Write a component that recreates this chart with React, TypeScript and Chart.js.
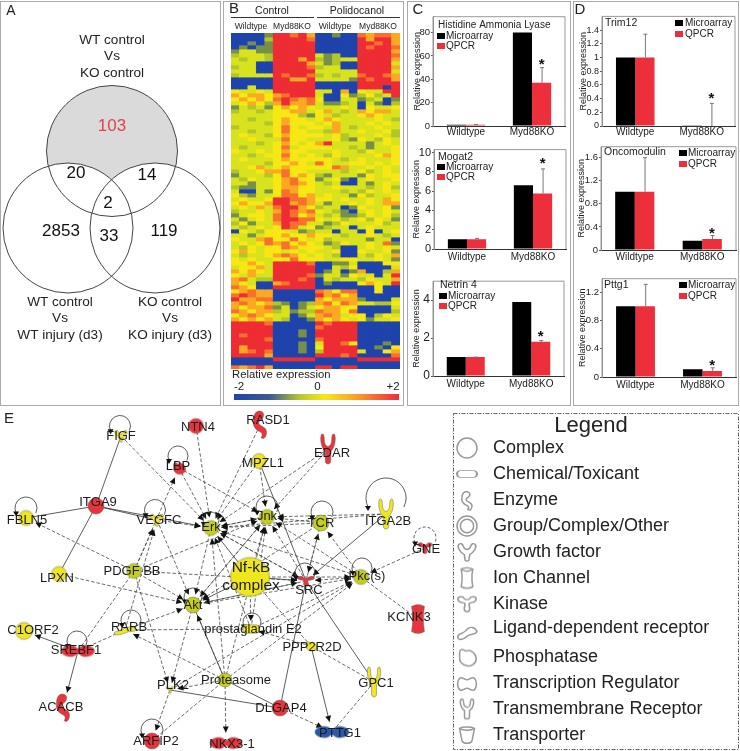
import { useEffect, useRef } from "react";
import { Chart, registerables } from "chart.js";
Chart.register(...registerables);

const FONT = '"Liberation Sans", Arial, sans-serif';

/* ---------- Venn ---------- */
const vennX = [112, 68, 155];
const vennY = [151, 228, 228];
const vennR = [65.5, 65, 65];
const vennCounts = ["103", "20", "14", "2", "2853", "33", "119"];
const vennCountX = [112, 76, 147, 108, 61, 109, 164];
const vennCountY = [126, 173, 175, 203, 231, 236, 231];
const vennTitles = [
  ["WT control", "Vs", "KO control"],
  ["WT control", "Vs", "WT injury (d3)"],
  ["KO control", "Vs", "KO injury (d3)"],
];

/* ---------- Heatmap ---------- */
const heatRows = [
  "BBBBN RRDRO BBNBB DODDO", "BBBBG RRRRD BBBBB RORRO", "BBNBN RRRRR BBBBB RRDRO", "BNBNN RRRRR BBBBB RDRRD",
  "NLLNN RRRRR BBBBB RRRRO", "GLLLG RRRRR LNGBB RRRRD", "LGLLG RRROR GNGLL RRRRO", "LLLBB RRRRO LNGBB RRRRL",
  "GLLBB RRRRD GLLBB RRRRO", "LLLBB RRRRR LLLLL RRRRL", "GLLLL RDRRD GLGLL DRRDO", "BBBBB RROOR LLLLN RDRRO",
  "BBBBB RRRRR BBBBB RRRRR", "BBLBB RRRRR BBBBB RRRBR", "YLLYL RRRRR LLBOB YLLRR", "OYOOY ODRRR LBBYN GYGLR",
  "YOYOY DRDOD YBBLL NGLBN", "LYOYG OROOD LNNGL BLNBG", "NLGLN YOYOY LLLYL BYLLY", "GLLGL YYOOL YOLGL OYOOL",
  "LLLLL YYYGN YLGLL YOYLL", "LLGLL YOYYL YOYLL LLYLG", "LLLLG YOYYY LYOLL LYLYL", "GLLLL YDYLY YLOLG LLYLL",
  "LLGLL YDYYL LGOLL YLLYG", "LYLLG YOYYY YLYGL LLYLG", "LLYLL LDYYL LLYGN YLGYL", "LLLGL YOYLY ORLLL LNLYL",
  "LGLLL YDLYY YYLLG LNLLY", "YLLYL YOYYL LLYLL GYLLY", "LLGLY YDYLY LGYLL LLYOY", "LYLLL YOYYY YYLGL YLLLY",
  "LLLLG YYOYL DYLLY YLYLY", "LLYOL YOYYY YYDOL LYLYL", "GLLYO ODYYL LLLGL YGLYL", "NLLLG YDYOY GNLLL NYLYY",
  "LGYLL YODYY NLYNB LYLLY", "LLNLL YODOY LGLBB LNLYL", "GNNLL YOOYY LLYLL LGLYG", "LBBLN YDOYY LLLGL GYLYL",
  "YGNLL YDDYO LYLLN YGLLY", "LYLLY RRDDO YYLYL LYLOY", "YOYYO RRODO LNLLY LYLOO", "LYLOL DRROY GLLBN YLLYN",
  "GLLYL ORDOD YLGNB LYLYL", "NLYYL DRDYO LGLNN GYLYG", "LNLYL DRRDD YLYGL YGYLN", "GYNLL ORDDL LNGYL LLYGL",
  "LGLYL YRDLY NGLLB LYLLL", "BYLGY YYLNG LLBLL BYBLY", "LLNLY YOYYO YYLGL LYLGL", "YLLOD YYDYL YGLLL LNLLB",
  "LYLYD ODYOY LNGYL LYLDN", "LGYLY YDOYY YLGBB LYLYL", "YOYLY YLYLY LLYBB YLLYN", "LGLLY ODOYL YLGBB LGYLO",
  "YLYLL YYDYY YLLYY LLYLN", "YYOYL RRRRD BBNNL BBBYY", "LYYOL RRRRR BBLGY BBBBL", "OYOYL RRRRR BNLBN OBBGO",
  "YLOLL RRRRD NLLNY LLBLR", "ODLGG RRRDR BLGLL GYLLO", "OYLBB ODRRR BNBBB YOYLR", "DOYBB RRRRR BBBBB BBYBB",
  "YODOO BBBBB DOYDD BBYBB", "DRDOO BBBBB RODYO BBBBB", "ROODD BBBBB OYOOO NBBBL", "ODOYO GNBNG ODYDO LLGGY",
  "OYOOD NLBNL YOOYY BBBBL", "DOYOO GLNGG DOOYD BBBBG", "YODOY LLBNL ODOLY YBGYL", "OYOYO LGBBN OYOYL YNLLY",
  "RRRRD BBBBB RDRRR BBBBB", "RRRRR BBBBB DRRRR BBBBB", "RRRRR BBBNB RRRRR BBBBB", "RDRRR BBBNB RRRRR BBBBB",
  "RRRRD BBBBB DRRRR BBBBB", "RRRRR BBBNB LRRDY BBBNB", "RORRR BBBNB YRRRR BBNBY", "RODRD BBBNB GRRRR LBBYO",
  "RRRRO BBBBB RRRDR BBBBD", "BBBBB RRRRR BBBBB RRRRR", "BBBBB BBBBB BBBBB BBBBB", "DODRO BBBBB RRBRR BBBBB",
];
const heatPalette: Record<string, string> = {
  B: "#1f43ad", N: "#76904a", G: "#b2c62a", L: "#d8e31e", Y: "#f7e815", O: "#fba922", D: "#f8702c", R: "#ee2c33",
};
const heatGroups = ["Control", "Polidocanol"];
const heatSubGroups = ["Wildtype", "Myd88KO", "Wildtype", "Myd88KO"];
const colorbarValues = [-2, 0, 2];
const colorbarTicks = ["-2", "0", "+2"];

/* ---------- Bars ---------- */
const barCategories = ["Wildtype", "Myd88KO"];
const seriesNames = ["Microarray", "QPCR"];
const hisMicro = [1, 80];
const hisQpcr = [1, 37];
const hisErr = [1.3, 50];
const mogMicro = [1, 6.6];
const mogQpcr = [1, 5.75];
const mogErr = [1.1, 8.3];
const netMicro = [1, 3.9];
const netQpcr = [1, 1.8];
const netErr = [1, 1.87];
const triMicro = [1, 0.005];
const triQpcr = [1, 0];
const triErr = [1.34, 0.33];
const oncMicro = [1.01, 0.16];
const oncQpcr = [1.01, 0.19];
const oncErr = [1.6, 0.25];
const pttMicro = [1, 0.11];
const pttQpcr = [1, 0.085];
const pttErr = [1.31, 0.13];

/* ---------- Network ---------- */
const nodeIds = ["FIGF","NTN4","LBP","RASD1","MPZL1","EDAR","ITGA9","FBLN5","VEGFC","Erk","Jnk","TCR","ITGA2B","GNE","LPXN","PDGF","Akt","NFKB","SRC","Pkc","KCNK3","C1ORF2","RARB","SREBF1","PGE2","PPP2R2D","GPC1","Prot","PLK2","DLGAP4","ACACB","ARFIP2","NKX","PTTG1"];
const nodeNames = ["FIGF","NTN4","LBP","RASD1","MPZL1","EDAR","ITGA9","FBLN5","VEGFC","Erk","Jnk","TCR","ITGA2B","GNE","LPXN","PDGF BB","Akt","Nf-kB|complex","SRC","Pkc(s)","KCNK3","C1ORF2","RARB","SREBF1","prostaglandin E2","PPP2R2D","GPC1","Proteasome","PLK2","DLGAP4","ACACB","ARFIP2","NKX3-1","PTTG1"];
const nodeX = [121,196,179,260,259,328,96,26,157,211,267,321,386,425,59,134,193,250,306,361,418,24,125,78,251,311,374,225,170,280,63,152,226,332];
const nodeY = [436,426,468,425,461,449,506,518,520,528,517,523,514,548,574,571,605,577,581,577,619,631,630,651,629,646,682,680,690,708,708,741,743,732];
const nodeShape = ["growth","circle","phosph","enzyme","circle","tm","circle","circle","growth","circle","circle","circle","tm","kinase","circle","circle","circle","circle","kinase","circle","channel","circle","ligand","duo","pill","phosph","tm","circle","kinase","circle","enzyme","circle","duo","duo"];
const nodeW = [15,15,16,26,14,22,16,15,16,15,15,16,22,17,15,15,16,39,20,15,22,17,26,33,16,14,20,14,9,16,26,16,32,34];
const nodeH = [14,15,15,30,15,32,16,15,14,15,15,16,32,14,15,15,16,39,12,15,30,17,12,15,10,12,32,14,9,16,30,16,15,15];
const nodeColor = ["Y","R","R","R","Y","R","R","Y","Y","H","H","H","Y","R","Y","H","H","Y","R","H","R","Y","Y","R","Y","Y","Y","H","Y","R","R","R","R","U"];
const labelX = [121,198,178,268,263,332,98,27,159,211,267,321,388,426,57,132,193,251,309,367,409,33,129,76,253,312,376,236,173,281,61,156,232,340];
const labelY = [436,427,466,420,463,453,502,520,520,527,516,523,521,549,578,571,605,568,590,576,617,630,627,650,629,647,683,680,685,708,707,741,744,733];
const solidEdges = ["FIGF~ITGA9","ITGA9~FBLN5","ITGA9~LPXN","ITGA9~VEGFC","ITGA9>Erk","MPZL1~SRC","DLGAP4~SRC","SRC~GPC1","ITGA2B>SRC","SREBF1>ACACB","SREBF1>C1ORF2","PLK2~DLGAP4","PPP2R2D>PTTG1","NFKB>Akt","NFKB>Erk","NFKB>SRC","Prot~DLGAP4","Prot~Akt"];
const dashedEdges = ["NTN4>Erk","LBP>Erk","LBP>Jnk","FIGF>Erk","RASD1>Erk","MPZL1>Erk","MPZL1>Jnk","EDAR>Jnk","EDAR>Erk","VEGFC>Erk","VEGFC>Akt","PDGF>VEGFC","PDGF>LBP","PDGF>Jnk","PDGF>Akt","PDGF>PLK2","PDGF~SREBF1","PDGF>SRC","PDGF>FBLN5","RARB>VEGFC","RARB>Akt","RARB~PGE2","LPXN>Akt","Erk>Akt","Erk>SRC","Erk>Jnk","Jnk>Erk","TCR>Erk","TCR>Jnk","TCR>Akt","ITGA2B>Jnk","ITGA2B>Erk","Pkc>Erk","Pkc>Jnk","Pkc>TCR","Pkc>SRC","SRC>TCR","SRC>Jnk","SRC>Erk","SRC>Akt","GNE>Pkc","KCNK3~Pkc","GPC1~PPP2R2D","PPP2R2D>PGE2","PPP2R2D~NFKB","PGE2>Erk","PGE2>Jnk","PGE2>Pkc","Prot>Erk","Prot>Akt","Prot>Jnk","Prot>RARB","Prot>NKX","Prot>PLK2","Prot>Pkc","NFKB>Jnk","NFKB>Pkc","NFKB>PGE2","Akt>PLK2","Akt>Jnk","Akt>Pkc","Akt>SRC","PLK2>ARFIP2","ARFIP2~Prot","DLGAP4>PTTG1","GPC1~PTTG1","PLK2>Pkc","SREBF1~RARB","Jnk>Akt","TCR>SRC"];
const loopIds = ["FIGF","LBP","FBLN5","VEGFC","Erk","Jnk","TCR","ITGA2B","GNE","SRC","Pkc","Akt","RARB","SREBF1","PGE2","ARFIP2"];
const loopX = [120,178,26,155,211,267,322,386,425,305,362,193,131,77,252,152];
const loopY = [426,456,508,510,520,507,512,498,538,573,568,597,620,641,622,730];
const loopR = [10.5,10,11,10.5,8,11,11,20,11,10,10,9,10,10,9,11];

/* ---------- Legend ---------- */
const legendLabels = ["Complex","Chemical/Toxicant","Enzyme","Group/Complex/Other","Growth factor","Ion Channel","Kinase","Ligand-dependent receptor","Phosphatase","Transcription Regulator","Transmembrane Receptor","Transporter"];
const legendShapes = ["circle","pill","enzyme","ring","growth","channel","kinase","ligand","phosph","tf","tm","transporter"];
const legendY = [448,474,500,526,552,578,604,628,657,683,709,735];
const legendIconY = [448,474,501,526,552,578,604,632,657,684,709,735];
const legendIconW = [20,20,20,20,22,20,22,22,22,22,20,20];
const legendIconH = [20,8,20,20,20,21,19,18,21,20,21,20];

const shapePaths: Record<string, string> = {
  circle: "M12 0A12 12 0 1 1 12 24A12 12 0 1 1 12 0Z",
  pill: "M4 2H20A4 10 0 0 1 20 22H4A4 10 0 0 1 4 2Z",
  ring: "M12 0A12 12 0 1 1 12 24A12 12 0 1 1 12 0ZM12 4A8 8 0 1 0 12 20A8 8 0 1 0 12 4Z",
  growth: "M3 3C5 1 7 2 8 5C9 8 11 9 12 9C13 9 15 8 16 5C17 2 19 1 21 3C23 6 20 12 15 15L14 22C13 23 11 23 10 22L9 15C4 12 1 6 3 3Z",
  tm: "M5 1C7 0 8 2 8 5C8 8 10 10 12 10C14 10 16 8 16 5C16 2 17 0 19 1C21 3 20 11 15 14L15 21C15 24 9 24 9 21L9 14C4 11 3 3 5 1Z",
  enzyme: "M10 1C15 0 17 4 14 7C11 9 10 10 12 12C15 14 18 14 18 18C18 22 15 24 13 22C15 20 14 18 11 17C7 15 5 12 6 8C6 5 7 2 10 1Z",
  channel: "M5 2C9 0 15 0 19 2L18 8L18 16L19 22C15 24 9 24 5 22L6 16L6 8Z",
  kinase: "M2 6C2 2 8 2 9 5C10 7 14 7 15 5C16 2 22 2 22 6C22 10 17 10 15 11C13 12 15 15 15 18C15 23 9 23 9 18C9 15 11 12 9 11C7 10 2 10 2 6Z",
  ligand: "M2 18C2 14 8 14 10 11C12 8 15 5 18 6C21 7 24 11 22 13C19 16 16 14 13 17C10 20 7 22 4 22C3 22 2 20 2 18Z",
  phosph: "M5 4C8 2 9 6 12 5C16 3 22 8 22 14C22 20 16 23 12 22C7 21 3 17 4 12C4 9 3 6 5 4Z",
  tf: "M4 5C7 3 9 7 12 7C15 7 17 3 20 5C23 8 23 16 20 19C17 21 15 17 12 17C9 17 7 21 4 19C1 16 1 8 4 5Z",
  duo: "M7 3C10 3 11 8 12 8C13 8 14 3 17 3C21 3 24 7 24 12C24 17 21 21 17 21C14 21 13 16 12 16C11 16 10 21 7 21C3 21 0 17 0 12C0 7 3 3 7 3Z",
  transporter: "M3 4C7 2 17 2 21 4L18 19C16 23 8 23 6 19Z",
};
const nodeFill: Record<string, string> = { Y: "#efe71d", H: "#c4cf1a", R: "#e8343c", U: "#2a58ad" };

function makeIcon(shape: string, w: number, h: number, fill: string, stroke: string, lw: number) {
  const c = document.createElement("canvas");
  c.width = Math.ceil(w) + 4;
  c.height = Math.ceil(h) + 4;
  const x = c.getContext("2d")!;
  x.translate(2, 2);
  x.scale(w / 24, h / 24);
  const p = new Path2D(shapePaths[shape]);
  x.lineWidth = (lw * 48) / (w + h);
  x.strokeStyle = stroke;
  x.fillStyle = fill;
  x.fill(p, "evenodd");
  x.stroke(p);
  if (shape === "transporter") x.stroke(new Path2D("M3 4C7 7 17 7 21 4"));
  if (shape === "channel") x.stroke(new Path2D("M5 2C9 5 15 5 19 2"));
  return c;
}

type PenOpts = { align?: CanvasTextAlign; color?: string; weight?: string };
function pen(ctx: CanvasRenderingContext2D, ox: number, oy: number) {
  return (s: string, x: number, y: number, size: number, o: PenOpts = {}) => {
    ctx.save();
    ctx.font = `${o.weight || ""} ${size}px ${FONT}`;
    ctx.fillStyle = o.color || "#222";
    ctx.textAlign = o.align || "center";
    ctx.textBaseline = "middle";
    ctx.fillText(s, x - ox, y - oy);
    ctx.restore();
  };
}

type Box = { x: number; y: number; w: number; h: number };
type BarSpec = {
  box: Box; title: string; titleX: number; titleY: number;
  micro: number[]; qpcr: number[]; err: number[]; max: number; ticks: number[]; star: number;
  swatchX: number; textX: number; legY: number[]; tickFont: number; catPad: number; titleOff: number;
};
const barSpecs: BarSpec[] = [
  { box: { x: 433, y: 16, w: 132, h: 110 }, title: "Histidine Ammonia Lyase", titleX: 438, titleY: 25, micro: hisMicro, qpcr: hisQpcr, err: hisErr, max: 93.6, ticks: [0, 20, 40, 60, 80], star: 55, swatchX: 437, textX: 446, legY: [36, 46], tickFont: 9.5, catPad: 0, titleOff: 16 },
  { box: { x: 434, y: 148, w: 132, h: 101 }, title: "Mogat2", titleX: 438, titleY: 157, micro: mogMicro, qpcr: mogQpcr, err: mogErr, max: 10.3, ticks: [0, 2, 4, 6, 8, 10], star: 9.1, swatchX: 437, textX: 446, legY: [167, 177], tickFont: 11, catPad: 2, titleOff: 18 },
  { box: { x: 433, y: 279, w: 131, h: 97 }, title: "Netrin 4", titleX: 440, titleY: 285, micro: netMicro, qpcr: netQpcr, err: netErr, max: 5, ticks: [0, 2, 4], star: 2.2, swatchX: 439, textX: 448, legY: [296, 306], tickFont: 12, catPad: 2, titleOff: 17 },
  { box: { x: 602, y: 16, w: 133, h: 110 }, title: "Trim12", titleX: 605, titleY: 23, micro: triMicro, qpcr: triQpcr, err: triErr, max: 1.6, ticks: [0, 0.2, 0.4, 0.6, 0.8, 1, 1.2, 1.4], star: 0.44, swatchX: 675, textX: 685, legY: [23, 34], tickFont: 9, catPad: 0, titleOff: 19 },
  { box: { x: 601, y: 146, w: 135, h: 104 }, title: "Oncomodulin", titleX: 604, titleY: 152, micro: oncMicro, qpcr: oncQpcr, err: oncErr, max: 1.79, ticks: [0, 0.4, 0.8, 1.2, 1.6], star: 0.34, swatchX: 679, textX: 688, legY: [153, 164], tickFont: 9.5, catPad: 1, titleOff: 20 },
  { box: { x: 602, y: 278, w: 134, h: 99 }, title: "Pttg1", titleX: 604, titleY: 285, micro: pttMicro, qpcr: pttQpcr, err: pttErr, max: 1.39, ticks: [0, 0.4, 0.8, 1.2], star: 0.2, swatchX: 679, textX: 688, legY: [285, 296], tickFont: 9.5, catPad: 2, titleOff: 20 },
];
const BAR_RED = "#ec2f3b";

function buildBar(cv: HTMLCanvasElement, s: BarSpec) {
  const left = s.box.x - 24, top = s.box.y - 6;
  return new Chart(cv, {
    type: "bar",
    data: {
      labels: barCategories,
      datasets: [
        { label: seriesNames[0], data: s.micro, backgroundColor: "#000" },
        { label: seriesNames[1], data: s.qpcr, backgroundColor: BAR_RED },
      ],
    },
    options: {
      responsive: false, animation: false, events: [],
      layout: { padding: { top: 6, right: 3, left: 0, bottom: 0 } },
      datasets: { bar: { categoryPercentage: 0.58, barPercentage: 1 } },
      plugins: { legend: { display: false }, tooltip: { enabled: false } },
      scales: {
        x: {
          afterFit: (a: any) => { a.height = 17; },
          grid: { drawOnChartArea: false, drawTicks: false },
          border: { color: "#333" },
          ticks: { color: "#222", font: { size: 10, family: FONT }, padding: s.catPad, maxRotation: 0 },
        },
        y: {
          min: 0, max: s.max,
          afterFit: (a: any) => { a.width = 24; },
          afterBuildTicks: (a: any) => { a.ticks = s.ticks.map((value) => ({ value })); },
          grid: { drawOnChartArea: false, tickLength: 2, color: "#555" },
          border: { color: "#888" },
          title: { display: true, text: "Relative expression", color: "#222", font: { size: 9, family: FONT }, padding: { top: 24 - s.titleOff - 5, bottom: 0 } },
          ticks: { color: "#222", font: { size: s.tickFont, family: FONT }, padding: 1, autoSkip: false, callback: (v: any) => String(Number(Number(v).toFixed(1))) },
        },
      },
    } as any,
    plugins: [{
      id: "barDecor",
      afterDatasetsDraw(c: any) {
        const ctx = c.ctx, a = c.chartArea, yS = c.scales.y, t = pen(ctx, left, top);
        ctx.save();
        ctx.strokeStyle = "#999"; ctx.lineWidth = 1;
        ctx.beginPath(); ctx.moveTo(a.left, a.bottom); ctx.lineTo(a.left, a.top); ctx.lineTo(a.right, a.top); ctx.lineTo(a.right, a.bottom); ctx.stroke();
        ctx.strokeStyle = "#777";
        const bars = c.getDatasetMeta(1).data;
        s.err.forEach((e, i) => {
          const x = bars[i].x, y0 = yS.getPixelForValue(s.qpcr[i]), y1 = yS.getPixelForValue(e);
          ctx.beginPath(); ctx.moveTo(x + 0.5, y0); ctx.lineTo(x + 0.5, y1); ctx.moveTo(x - 1.5, y1); ctx.lineTo(x + 2.5, y1); ctx.stroke();
        });
        ctx.fillStyle = "#000"; ctx.fillRect(s.swatchX - left, s.legY[0] - 3 - top, 8, 6);
        ctx.fillStyle = BAR_RED; ctx.fillRect(s.swatchX - left, s.legY[1] - 3 - top, 8, 6);
        ctx.restore();
        t(s.title, s.titleX, s.titleY, s.title.length > 12 ? 10 : 10.5, { align: "left" });
        t(seriesNames[0], s.textX, s.legY[0], 10, { align: "left" });
        t(seriesNames[1], s.textX, s.legY[1], 10, { align: "left" });
        t("*", bars[1].x + left, yS.getPixelForValue(s.star) + top + 3, 15, { weight: "bold", color: "#111" });
      },
    }],
  });
}

function buildVenn(cv: HTMLCanvasElement) {
  const pts = vennX.map((x, i) => ({ x, y: vennY[i], r: vennR[i] }));
  return new Chart(cv, {
    type: "bubble",
    data: {
      datasets: [
        { data: pts, backgroundColor: "rgba(0,0,0,0)", borderColor: "#444", borderWidth: 1, clip: false },
        { data: pts.slice(1), backgroundColor: "#fff", borderWidth: 0, clip: false },
        { data: pts.slice(0, 1), backgroundColor: "#dadada", borderWidth: 0, clip: false },
      ],
    },
    options: {
      responsive: false, animation: false, events: [],
      layout: { autoPadding: false },
      plugins: { legend: { display: false }, tooltip: { enabled: false } },
      scales: { x: { display: false, min: 1, max: 221 }, y: { display: false, min: 2, max: 405, reverse: true } },
    } as any,
    plugins: [{
      id: "vennText",
      afterDatasetsDraw(c: any) {
        const X = c.scales.x, Y = c.scales.y;
        const t = pen(c.ctx, 0, 0);
        const P = (s: string, x: number, y: number, z: number, o?: PenOpts) => t(s, X.getPixelForValue(x), Y.getPixelForValue(y), z, o);
        P("A", 11, 11, 14, {});
        vennCounts.forEach((s, i) => P(s, vennCountX[i], vennCountY[i], 17, { color: i === 0 ? "#e4404f" : "#111" }));
        const tx = [112, 60, 170], ty = [40, 302, 302];
        vennTitles.forEach((lines, k) => lines.forEach((l, j) => P(l, tx[k], ty[k] + j * 16.5, 13.6)));
      },
    }],
  });
}

function buildHeat(cv: HTMLCanvasElement) {
  const L = 226, Tp = 2;
  const rows = heatRows.map((r) => r.replace(/ /g, ""));
  const cols = rows[0].split("").map((_, i) => String(i));
  return new Chart(cv, {
    type: "bar",
    data: {
      labels: cols,
      datasets: rows.map((r) => ({
        data: cols.map(() => 1),
        backgroundColor: r.split("").map((k) => heatPalette[k]),
        borderWidth: 0, categoryPercentage: 1, barPercentage: 1, inflateAmount: 0.4,
      })),
    },
    options: {
      responsive: false, animation: false, events: [],
      layout: { padding: { left: 5, right: 4, top: 31, bottom: 36 } },
      plugins: { legend: { display: false }, tooltip: { enabled: false } },
      scales: {
        x: { display: false, stacked: true },
        y: { display: false, stacked: true, min: 0, max: rows.length, reverse: true },
      },
    } as any,
    plugins: [{
      id: "heatDecor",
      afterDatasetsDraw(c: any) {
        const ctx = c.ctx, t = pen(ctx, L, Tp);
        t("B", 234, 9, 15);
        const gx = [272, 357];
        heatGroups.forEach((g, i) => t(g, gx[i], 11, 10.5));
        ctx.save();
        ctx.strokeStyle = "#333"; ctx.lineWidth = 1.2;
        [[231, 314], [317, 400]].forEach(([a, b]) => {
          ctx.beginPath(); ctx.moveTo(a - L, 17.5 - Tp); ctx.lineTo(b - L, 17.5 - Tp); ctx.stroke();
        });
        const x0 = 234 - L, x1 = 399 - L;
        const g = ctx.createLinearGradient(x0, 0, x1, 0);
        g.addColorStop(0, "#1f43ad"); g.addColorStop(0.22, "#3f5a90"); g.addColorStop(0.4, "#b8c830");
        g.addColorStop(0.55, "#f7e815"); g.addColorStop(0.75, "#fb9a2a"); g.addColorStop(1, "#ee2c40");
        ctx.fillStyle = g; ctx.fillRect(x0, 394 - Tp, x1 - x0, 6);
        ctx.restore();
        const sx = [251, 292, 335, 378];
        heatSubGroups.forEach((g2, i) => t(g2, sx[i], 27, 8.5));
        t("Relative expression", 232, 375, 11.3, { align: "left" });
        colorbarValues.forEach((v, i) => {
          const px = 234 + ((v + 2) / 4) * 165;
          t(colorbarTicks[i], i === 0 ? px + 5 : i === 2 ? px - 6 : px + 1, 387, 11.5);
        });
      },
    }],
  });
}

function buildNetwork(cv: HTMLCanvasElement) {
  const icons = nodeShape.map((sh, i) => makeIcon(sh, nodeW[i], nodeH[i], nodeFill[nodeColor[i]], "#666", 0.5));
  const idx = (id: string) => nodeIds.indexOf(id);
  return new Chart(cv, {
    type: "scatter",
    data: { datasets: [{ data: nodeX.map((x, i) => ({ x, y: nodeY[i] })), pointStyle: icons as any, pointRadius: 5, clip: false } as any] },
    options: {
      responsive: false, animation: false, events: [],
      layout: { autoPadding: false },
      plugins: { legend: { display: false }, tooltip: { enabled: false } },
      scales: { x: { display: false, min: 0, max: 450 }, y: { display: false, min: 406, max: 751, reverse: true } },
    } as any,
    plugins: [{
      id: "netEdges",
      beforeDatasetsDraw(c: any) {
        const ctx: CanvasRenderingContext2D = c.ctx, X = c.scales.x, Y = c.scales.y;
        const drawEdge = (e: string, dashed: boolean) => {
          const arrow = e.includes(">");
          const [a, b] = e.split(arrow ? ">" : "~");
          const i = idx(a), j = idx(b);
          const x0 = X.getPixelForValue(nodeX[i]), y0 = Y.getPixelForValue(nodeY[i]);
          const x1 = X.getPixelForValue(nodeX[j]), y1 = Y.getPixelForValue(nodeY[j]);
          const d = Math.hypot(x1 - x0, y1 - y0), ux = (x1 - x0) / d, uy = (y1 - y0) / d;
          const gap = arrow ? Math.min(nodeW[j], nodeH[j]) / 2 + 3 : 0;
          const ex = x1 - ux * gap, ey = y1 - uy * gap;
          ctx.setLineDash(dashed ? [3.5, 2] : []);
          ctx.strokeStyle = dashed ? "#444" : "#333";
          ctx.lineWidth = 0.8;
          ctx.beginPath(); ctx.moveTo(x0, y0); ctx.lineTo(ex, ey); ctx.stroke();
          if (arrow) {
            ctx.setLineDash([]); ctx.fillStyle = "#111";
            ctx.beginPath(); ctx.moveTo(ex, ey);
            ctx.lineTo(ex - ux * 6 - uy * 3, ey - uy * 6 + ux * 3);
            ctx.lineTo(ex - ux * 6 + uy * 3, ey - uy * 6 - ux * 3);
            ctx.closePath(); ctx.fill();
          }
        };
        ctx.save();
        solidEdges.forEach((e) => drawEdge(e, false));
        dashedEdges.forEach((e) => drawEdge(e, true));
        loopIds.forEach((id, i) => {
          const x = X.getPixelForValue(loopX[i]), y = Y.getPixelForValue(loopY[i]);
          ctx.setLineDash(id === "GNE" ? [3, 2] : []);
          ctx.strokeStyle = "#333"; ctx.lineWidth = 0.8;
          ctx.beginPath(); ctx.arc(x, y, loopR[i], Math.PI * 0.85, Math.PI * 2.15); ctx.stroke();
          ctx.setLineDash([]); ctx.fillStyle = "#111";
          const ax = x - loopR[i] * 0.9, ay = y + loopR[i] * 0.5;
          ctx.beginPath(); ctx.moveTo(ax, ay + 3); ctx.lineTo(ax - 3, ay - 2); ctx.lineTo(ax + 3, ay - 2); ctx.closePath(); ctx.fill();
        });
        ctx.restore();
      },
      afterDatasetsDraw(c: any) {
        const X = c.scales.x, Y = c.scales.y, t = pen(c.ctx, 0, 0);
        nodeNames.forEach((n, i) => {
          const lx = X.getPixelForValue(labelX[i]), ly = Y.getPixelForValue(labelY[i]);
          if (n.includes("|")) {
            const [a, b] = n.split("|");
            t(a, lx, ly, 15.5, { color: "#1c1c1c" }); t(b, lx, ly + 18, 15.5, { color: "#1c1c1c" });
          } else t(n, lx, ly, 13, { color: "#1c1c1c" });
        });
        t("E", X.getPixelForValue(9), Y.getPixelForValue(419), 15);
      },
    }],
  });
}

function buildLegend(cv: HTMLCanvasElement) {
  const icons = legendShapes.map((sh, i) => makeIcon(sh, legendIconW[i], legendIconH[i], "#fff", "#999", 1.5));
  return new Chart(cv, {
    type: "scatter",
    data: { datasets: [{ data: legendIconY.map((y) => ({ x: 467, y })), pointStyle: icons as any, pointRadius: 5, clip: false } as any] },
    options: {
      responsive: false, animation: false, events: [],
      layout: { autoPadding: false },
      plugins: { legend: { display: false }, tooltip: { enabled: false } },
      scales: { x: { display: false, min: 445, max: 740 }, y: { display: false, min: 406, max: 751, reverse: true } },
    } as any,
    plugins: [{
      id: "legendText",
      afterDatasetsDraw(c: any) {
        const ctx = c.ctx, X = c.scales.x, Y = c.scales.y, t = pen(ctx, 0, 0);
        ctx.save();
        ctx.strokeStyle = "#666"; ctx.lineWidth = 1; ctx.setLineDash([4, 1.5, 1, 1.5]);
        ctx.strokeRect(X.getPixelForValue(453) + 0.5, Y.getPixelForValue(413) + 0.5, 285, 336);
        ctx.restore();
        t("Legend", X.getPixelForValue(591), Y.getPixelForValue(426), 22);
        legendLabels.forEach((s, i) => t(s, X.getPixelForValue(493), Y.getPixelForValue(legendY[i]), 18, { align: "left" }));
      },
    }],
  });
}

function buildCorner(cv: HTMLCanvasElement, letter: string, cx: number) {
  return new Chart(cv, {
    type: "bar",
    data: { labels: [], datasets: [] },
    options: { responsive: false, animation: false, events: [], plugins: { legend: { display: false }, tooltip: { enabled: false } }, scales: { x: { display: false }, y: { display: false } } } as any,
    plugins: [{ id: "cornerLetter", afterDraw(c: any) { pen(c.ctx, 0, 0)(letter, cx, 8, 15); } }],
  });
}

const frames = [
  { left: 0, width: 221 },
  { left: 223, width: 181 },
  { left: 407, width: 164 },
  { left: 573, width: 166 },
];

export default function App() {
  const refs = useRef<(HTMLCanvasElement | null)[]>([]);
  const layout = [
    { l: 1, t: 2, w: 220, h: 403, build: buildVenn },
    { l: 226, t: 2, w: 178, h: 403, build: buildHeat },
    ...barSpecs.map((s) => ({ l: s.box.x - 24, t: s.box.y - 6, w: s.box.w + 27, h: s.box.h + 23, build: (c: HTMLCanvasElement) => buildBar(c, s) })),
    { l: 408, t: 2, w: 30, h: 14, build: (c: HTMLCanvasElement) => buildCorner(c, "C", 10) },
    { l: 574, t: 2, w: 30, h: 14, build: (c: HTMLCanvasElement) => buildCorner(c, "D", 6) },
    { l: 0, t: 406, w: 450, h: 345, build: buildNetwork },
    { l: 445, t: 406, w: 295, h: 345, build: buildLegend },
  ];
  useEffect(() => {
    const charts = layout.map((it, i) => it.build(refs.current[i]!));
    return () => charts.forEach((c) => c.destroy());
  }, []);
  return (
    <div style={{ position: "absolute", left: 0, top: 0, width: 740, height: 751, background: "#fff", overflow: "hidden", filter: "blur(0.45px)" }}>
      {frames.map((f, i) => (
        <div key={i} style={{ position: "absolute", left: f.left, top: 1, width: f.width, height: 405, border: "1px solid #aaa", boxSizing: "border-box" }} />
      ))}
      {layout.map((it, i) => (
        <canvas key={i} ref={(el) => { refs.current[i] = el; }} width={it.w} height={it.h} style={{ position: "absolute", left: it.l, top: it.t, width: it.w, height: it.h }} />
      ))}
    </div>
  );
}
